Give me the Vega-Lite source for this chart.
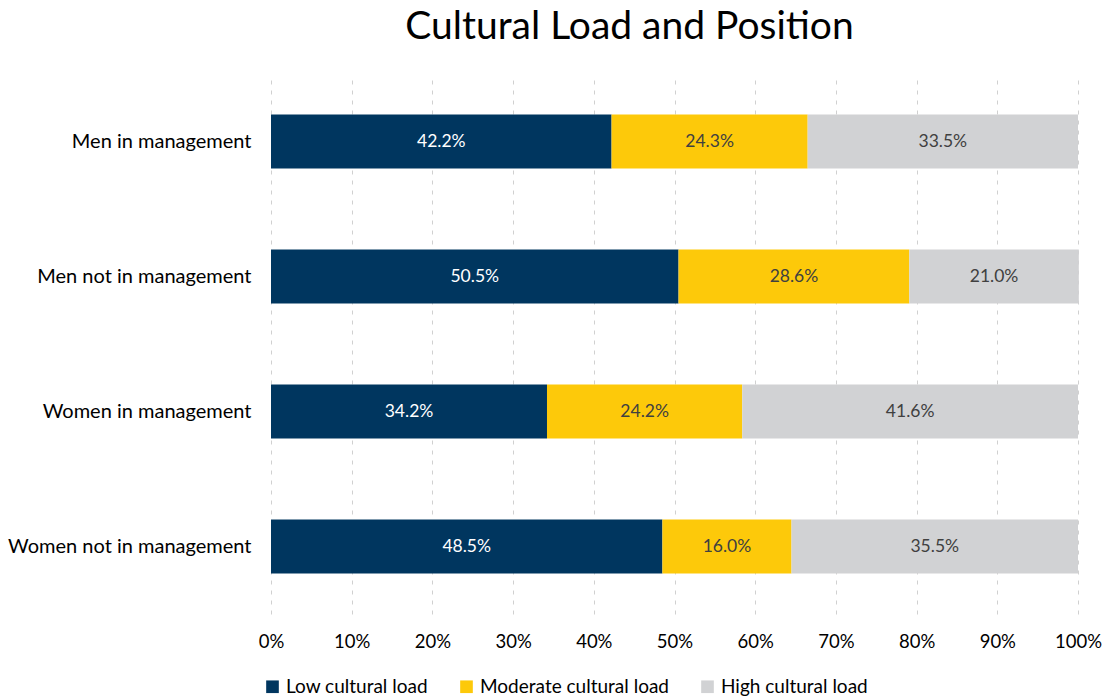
{
  "$schema": "https://vega.github.io/schema/vega-lite/v6.json",
  "width": 807,
  "height": 540,
  "autosize": "none",
  "padding": {"left": 271, "top": 74, "right": 29, "bottom": 86},
  "background": "white",
  "config": {"view": {"stroke": null}},
  "title": {
    "text": "Cultural Load and Position",
    "fontSize": 39,
    "font": "Lato",
    "fontWeight": "normal",
    "color": "#000000",
    "anchor": "middle",
    "dx": -45,
    "offset": 27
  },
  "data": {
    "values": [
      {"group": "Men in management", "load": "Low cultural load", "rank": 1, "share": 0.422},
      {"group": "Men in management", "load": "Moderate cultural load", "rank": 2, "share": 0.243},
      {"group": "Men in management", "load": "High cultural load", "rank": 3, "share": 0.335},
      {"group": "Men not in management", "load": "Low cultural load", "rank": 1, "share": 0.505},
      {"group": "Men not in management", "load": "Moderate cultural load", "rank": 2, "share": 0.286},
      {"group": "Men not in management", "load": "High cultural load", "rank": 3, "share": 0.210},
      {"group": "Women in management", "load": "Low cultural load", "rank": 1, "share": 0.342},
      {"group": "Women in management", "load": "Moderate cultural load", "rank": 2, "share": 0.242},
      {"group": "Women in management", "load": "High cultural load", "rank": 3, "share": 0.416},
      {"group": "Women not in management", "load": "Low cultural load", "rank": 1, "share": 0.485},
      {"group": "Women not in management", "load": "Moderate cultural load", "rank": 2, "share": 0.160},
      {"group": "Women not in management", "load": "High cultural load", "rank": 3, "share": 0.355}
    ]
  },
  "transform": [
    {"stack": "share", "groupby": ["group"], "sort": [{"field": "rank", "order": "ascending"}], "as": ["s0", "s1"]},
    {"calculate": "(datum.s0 + datum.s1) / 2", "as": "mid"}
  ],
  "encoding": {
    "y": {
      "field": "group",
      "type": "nominal",
      "sort": ["Men in management", "Men not in management", "Women in management", "Women not in management"],
      "scale": {"paddingInner": 0.6, "paddingOuter": 0.3},
      "axis": {
        "title": null,
        "domain": false,
        "ticks": false,
        "labelFont": "Lato",
        "labelFontSize": 20,
        "labelColor": "#000000",
        "labelPadding": 20,
        "labelLimit": 0
      }
    }
  },
  "layer": [
    {
      "mark": {"type": "bar"},
      "encoding": {
        "x": {
          "field": "s0",
          "type": "quantitative",
          "scale": {"domain": [0, 1], "nice": false},
          "axis": {
            "title": null,
            "format": "%",
            "values": [0, 0.1, 0.2, 0.3, 0.4, 0.5, 0.6, 0.7, 0.8, 0.9, 1],
            "domain": false,
            "ticks": false,
            "grid": true,
            "gridColor": "#d0d0d0",
            "gridDash": [4, 6],
            "gridWidth": 1,
            "labelFont": "Lato",
            "labelFontSize": 18.5,
            "labelColor": "#000000",
            "labelPadding": 18,
            "labelFlush": false
          }
        },
        "x2": {"field": "s1"},
        "color": {
          "field": "load",
          "type": "nominal",
          "scale": {
            "domain": ["Low cultural load", "Moderate cultural load", "High cultural load"],
            "range": ["#00365f", "#fdc90a", "#d1d2d4"]
          },
          "legend": {
            "title": null,
            "orient": "none",
            "direction": "horizontal",
            "legendX": -8,
            "legendY": 603,
            "symbolType": "square",
            "symbolSize": 160,
            "symbolStrokeWidth": 0,
            "symbolOpacity": 1,
            "labelFont": "Lato",
            "labelFontSize": 19,
            "labelColor": "#000000",
            "labelLimit": 0,
            "columnPadding": 29,
            "labelOffset": 4
          }
        }
      }
    },
    {
      "mark": {"type": "text", "font": "Lato", "fontSize": 17.5, "align": "center", "baseline": "middle"},
      "encoding": {
        "x": {"field": "mid", "type": "quantitative"},
        "text": {"field": "share", "type": "quantitative", "format": ".1%"},
        "color": {
          "condition": {"test": "datum.rank === 1", "value": "#ffffff"},
          "value": "#404040"
        }
      }
    }
  ]
}
